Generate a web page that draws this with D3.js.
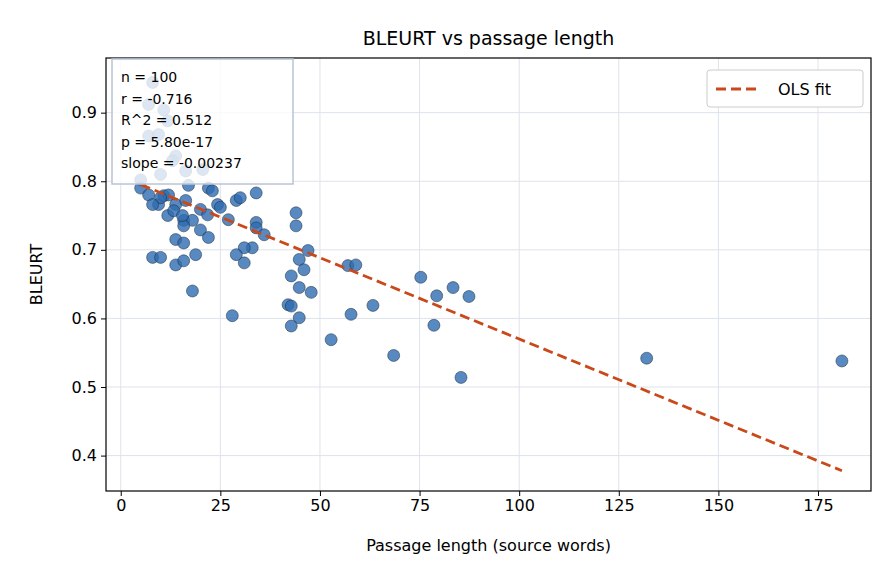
<!DOCTYPE html>
<html>
<head>
<meta charset="utf-8">
<script src="https://d3js.org/d3.v7.min.js"></script>
<style>
  body { margin: 0; background: #fff; }
  text { font-family: "DejaVu Sans", sans-serif; }
</style>
</head>
<body>
<svg id="chart" width="896" height="584"></svg>
<script>
// passage length (source words)
var lengths = [8, 7, 10.8, 11.8, 7, 9.5, 13.8, 13, 10, 16.3, 20.6, 5,
  5, 7, 9.5, 10.8, 12, 13.8, 11.8, 13.3, 16.3, 17, 15.8, 18, 15.8, 20, 22, 23,
  21.8, 20, 22, 24.3, 25, 27, 29, 30, 34, 34, 34, 36, 33, 31, 29, 31,
  44, 44, 47, 44.8, 46, 42.8, 44.8, 47.8, 42, 42.8, 44.8, 42.8, 52.8, 57.8, 57, 59,
  8, 10, 13.8, 15.8, 18.8, 13.8, 15.8, 18, 28, 63.3, 10, 8, 15.5,
  75.3, 79.3, 78.6, 83.4, 87.4, 68.5, 85.4, 132, 181];
// BLEURT scores
var scores = [0.944, 0.912, 0.904, 0.888, 0.866, 0.868, 0.837, 0.830, 0.81, 0.815, 0.817, 0.802,
  0.79, 0.78, 0.766, 0.779, 0.78, 0.766, 0.75, 0.757, 0.772, 0.794, 0.743, 0.743, 0.735, 0.759, 0.79, 0.786,
  0.751, 0.729, 0.718, 0.766, 0.762, 0.744, 0.772, 0.776, 0.783, 0.74, 0.732, 0.722, 0.703, 0.703, 0.693, 0.681,
  0.754, 0.735, 0.699, 0.686, 0.671, 0.662, 0.645, 0.638, 0.62, 0.618, 0.601, 0.589, 0.569, 0.606, 0.677, 0.678,
  0.689, 0.689, 0.678, 0.684, 0.693, 0.715, 0.71, 0.64, 0.604, 0.619, 0.776, 0.766, 0.75,
  0.66, 0.633, 0.59, 0.645, 0.632, 0.546, 0.514, 0.542, 0.538];
var statLines = ["n = 100", "r = -0.716", "R^2 = 0.512", "p = 5.80e-17", "slope = -0.00237"];
var fitSlope = -0.00237, fitIntercept = 0.807;
var xTicks = [0, 25, 50, 75, 100, 125, 150, 175];
var yTicks = [0.4, 0.5, 0.6, 0.7, 0.8, 0.9];

var svg = d3.select("#chart");
var pLeft = 106, pRight = 871, pTop = 58, pBottom = 491;
var x = d3.scaleLinear().domain([-3.7, 188.3]).range([pLeft, pRight]);
var y = d3.scaleLinear().domain([0.3484, 0.9797]).range([pBottom, pTop]);

// grid
svg.append("g").selectAll("line").data(xTicks).join("line")
  .attr("x1", d => x(d)).attr("x2", d => x(d)).attr("y1", pTop).attr("y2", pBottom)
  .attr("stroke", "#dde3ec").attr("stroke-width", 1);
svg.append("g").selectAll("line").data(yTicks).join("line")
  .attr("y1", d => y(d)).attr("y2", d => y(d)).attr("x1", pLeft).attr("x2", pRight)
  .attr("stroke", "#dde3ec").attr("stroke-width", 1);

// points
var pts = lengths.map((d, i) => [d, scores[i]]);
svg.append("g").selectAll("circle").data(pts).join("circle")
  .attr("cx", d => x(d[0])).attr("cy", d => y(d[1])).attr("r", 6)
  .attr("fill", "#2e6bb0").attr("fill-opacity", 0.8)
  .attr("stroke", "#1a2a3a").attr("stroke-width", 0.5);

// fit line
var xmin = d3.min(lengths), xmax = d3.max(lengths);
svg.append("line")
  .attr("x1", x(xmin)).attr("y1", y(fitIntercept + fitSlope * xmin))
  .attr("x2", x(xmax)).attr("y2", y(fitIntercept + fitSlope * xmax))
  .attr("stroke", "#c9491a").attr("stroke-width", 2.8).attr("stroke-dasharray", "10,5");

// axes
var xAxis = svg.append("g").attr("transform", "translate(0," + pBottom + ")")
  .call(d3.axisBottom(x).tickValues(xTicks).tickSize(5).tickPadding(4));
var yAxis = svg.append("g").attr("transform", "translate(" + pLeft + ",0)")
  .call(d3.axisLeft(y).tickValues(yTicks).tickFormat(d3.format(".1f")).tickSize(5).tickPadding(4));
[xAxis, yAxis].forEach(a => {
  a.select(".domain").remove();
  a.selectAll("text").attr("font-size", 16).attr("fill", "#000").attr("font-family", "DejaVu Sans");
});
svg.append("rect").attr("x", pLeft).attr("y", pTop).attr("width", pRight - pLeft).attr("height", pBottom - pTop)
  .attr("fill", "none").attr("stroke", "#000").attr("stroke-width", 1.2);

// labels
svg.append("text").attr("x", (pLeft + pRight) / 2).attr("y", 45).attr("text-anchor", "middle")
  .attr("font-size", 19).text("BLEURT vs passage length");
svg.append("text").attr("x", (pLeft + pRight) / 2).attr("y", 551).attr("text-anchor", "middle")
  .attr("font-size", 16).text("Passage length (source words)");
svg.append("text").attr("transform", "translate(42," + ((pTop + pBottom) / 2) + ") rotate(-90)")
  .attr("text-anchor", "middle").attr("font-size", 16).text("BLEURT");

// stats box
svg.append("rect").attr("x", 112).attr("y", 59).attr("width", 181).attr("height", 125)
  .attr("fill", "#fff").attr("fill-opacity", 0.8).attr("stroke", "#b8c4d4").attr("stroke-width", 1.5);
svg.append("g").selectAll("text").data(statLines).join("text")
  .attr("x", 121).attr("y", (d, i) => 82 + i * 21.5).attr("font-size", 14).text(d => d);

// legend
svg.append("rect").attr("x", 707).attr("y", 70).attr("width", 156).attr("height", 37).attr("rx", 3)
  .attr("fill", "#fff").attr("stroke", "#ccc");
svg.append("line").attr("x1", 716).attr("x2", 760).attr("y1", 89).attr("y2", 89)
  .attr("stroke", "#c9491a").attr("stroke-width", 2.8).attr("stroke-dasharray", "10,5");
svg.append("text").attr("x", 778).attr("y", 95).attr("font-size", 16).text("OLS fit");
</script>
</body>
</html>
